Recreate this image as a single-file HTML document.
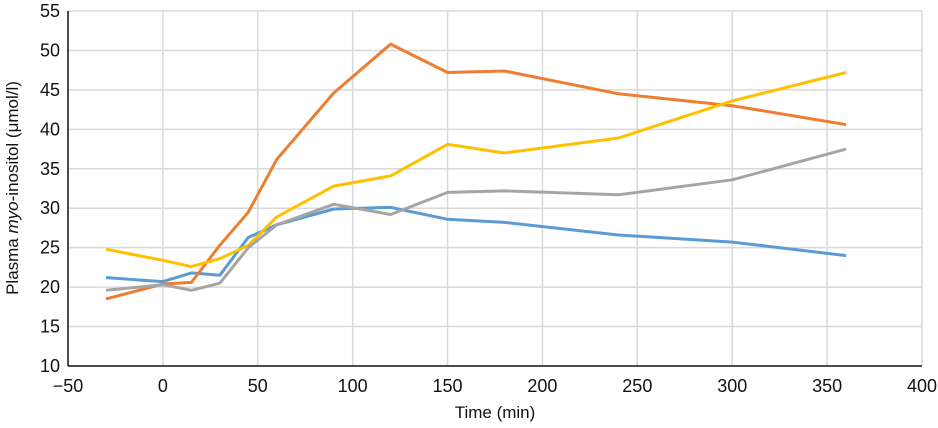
<!DOCTYPE html>
<html><head><meta charset="utf-8"><style>
html,body{margin:0;padding:0;background:#fff;width:938px;height:428px;overflow:hidden}
svg text{font-family:"Liberation Sans",sans-serif;fill:#111}
</style></head><body>
<svg id="chart" width="938" height="428" xmlns="http://www.w3.org/2000/svg">
<g id="grid"></g>
<g id="series"></g>
<g id="axes"></g>
<text x="495" y="418" text-anchor="middle" font-size="17">Time (min)</text>
<text transform="translate(18,188) rotate(-90)" text-anchor="middle" font-size="17">Plasma <tspan font-style="italic">myo</tspan>-inositol (μmol/l)</text>
</svg>
<script>
const times = [-30, 0, 15, 30, 45, 60, 90, 120, 150, 180, 240, 300, 360];
const blueValues = [21.2, 20.7, 21.8, 21.5, 26.3, 27.9, 29.9, 30.1, 28.6, 28.2, 26.6, 25.7, 24.0];
const orangeValues = [18.5, 20.4, 20.6, 25.3, 29.5, 36.2, 44.6, 50.8, 47.2, 47.4, 44.5, 43.0, 40.6];
const yellowValues = [24.8, 23.4, 22.6, 23.6, 25.3, 28.9, 32.8, 34.1, 38.1, 37.0, 38.9, 43.6, 47.2];
const grayValues = [19.6, 20.3, 19.6, 20.5, 25.0, 27.9, 30.5, 29.2, 32.0, 32.2, 31.7, 33.6, 37.5];
const xTicks = [-50, 0, 50, 100, 150, 200, 250, 300, 350, 400];
const xTickLabels = ["\u221250", "0", "50", "100", "150", "200", "250", "300", "350", "400"];
const yTicks = [10, 15, 20, 25, 30, 35, 40, 45, 50, 55];

const X0=68, X1=922, Y0=366, Y1=11;
const xS = v => X0 + (v - (-50)) / 450 * (X1 - X0);
const yS = v => Y0 - (v - 10) / 45 * (Y0 - Y1);
const NS = "http://www.w3.org/2000/svg";
const grid = document.getElementById('grid'), axes = document.getElementById('axes'), ser = document.getElementById('series');
function mk(tag, attrs, parent){const e=document.createElementNS(NS,tag);for(const k in attrs)e.setAttribute(k,attrs[k]);parent.appendChild(e);return e;}
xTicks.forEach((t,i)=>{
  const x=xS(t);
  if(i>0){const l=mk('line',{x1:x,x2:x,y1:Y1,y2:Y0,stroke:'#d9d9d9','stroke-width':1.5},grid);
  
  }
  const tx=mk('text',{x:x,y:392,'text-anchor':'middle','font-size':18},axes);
  tx.textContent=xTickLabels[i];
  
  
});
yTicks.forEach(t=>{
  const y=yS(t);
  if(t>10){const l=mk('line',{x1:X0,x2:X1,y1:y,y2:y,stroke:'#d9d9d9','stroke-width':1.5},grid);
  
  }
  const tx=mk('text',{x:60,y:y+6,'text-anchor':'end','font-size':18},axes);
  tx.textContent=t;
  
  
});
const ya=mk('line',{x1:X0,x2:X0,y1:Y1,y2:Y0,stroke:'#111','stroke-width':1.5},axes);


const xa=mk('line',{x1:X0,x2:X1,y1:Y0,y2:Y0,stroke:'#111','stroke-width':1.5},axes);


const seriesList=[[blueValues,'#5b9bd5','series-blue'],[orangeValues,'#ed7d31','series-orange'],[yellowValues,'#ffc000','series-yellow'],[grayValues,'#a5a5a5','series-gray']];
seriesList.forEach(([vals,col,name])=>{
  const pts=vals.map((v,i)=>xS(times[i]).toFixed(1)+','+yS(v).toFixed(1)).join(' ');
  const p=mk('polyline',{points:pts,fill:'none',stroke:col,'stroke-width':3,'stroke-linejoin':'round'},ser);
  
  
});
</script>
</body></html>
